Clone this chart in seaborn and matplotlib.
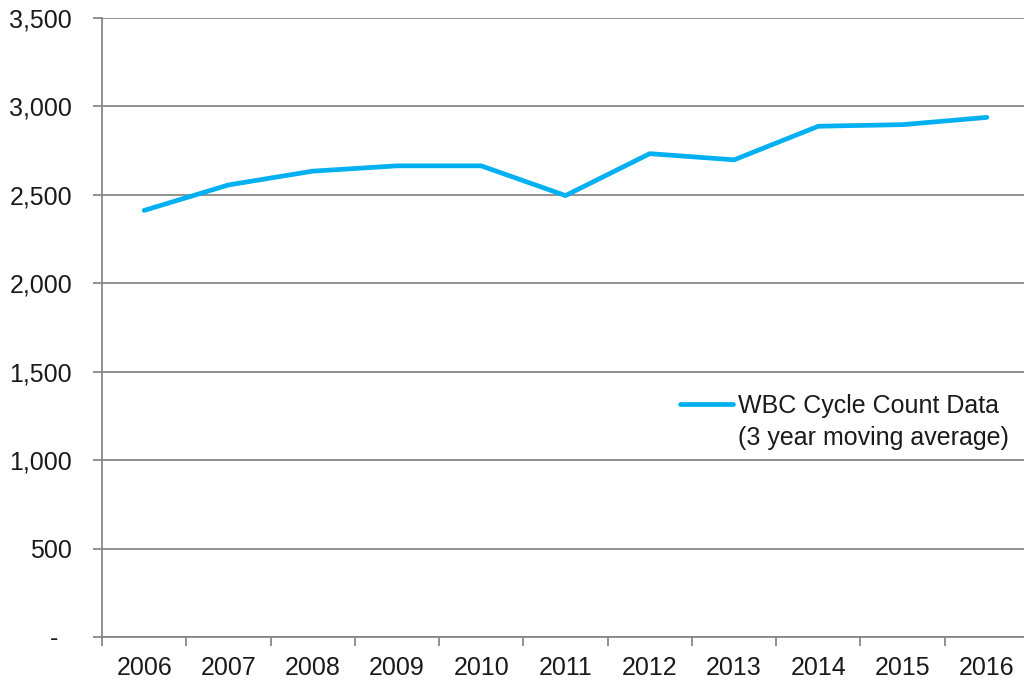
import matplotlib
matplotlib.use("Agg")
import matplotlib.pyplot as plt
from matplotlib.ticker import FuncFormatter, FixedLocator
from matplotlib.lines import Line2D
import seaborn as sns
import pandas as pd

years = ["2006", "2007", "2008", "2009", "2010", "2011",
         "2012", "2013", "2014", "2015", "2016"]
cycle_counts = [2412, 2556, 2634, 2664, 2664, 2496,
                2733, 2698, 2888, 2897, 2938]
series_label = "WBC Cycle Count Data"
series_note = "(3 year moving average)"
y_ticks = [0, 500, 1000, 1500, 2000, 2500, 3000, 3500]

sns.set_theme(style="white")
plt.rcParams["font.family"] = ["Liberation Sans", "DejaVu Sans"]

LINE_BLUE = "#00B0F0"
GRID_GREY = "#888888"
TEXT = "#1A1A1A"
FS = 18

df = pd.DataFrame({"year": years, "count": cycle_counts})

fig = plt.figure(figsize=(10.24, 6.84), dpi=100)
ax = fig.add_axes([102 / 1024, 1 - 637 / 684, 927 / 1024, (637 - 18) / 684])

sns.lineplot(data=df, x="year", y="count", ax=ax, color=LINE_BLUE,
             linewidth=3.4, sort=False, legend=False)

ax.set_xlim(-0.5, len(years) - 0.5)
ax.set_ylim(0, 3500)
ax.yaxis.set_major_locator(FixedLocator(y_ticks))
ax.yaxis.set_major_formatter(
    FuncFormatter(lambda v, _: "-  " if v == 0 else f"{v:,.0f}"))

# category labels sit between boundary tick marks
ax.set_xticks(range(len(years)))
ax.set_xticklabels(years)
ax.set_xticks([i - 0.5 for i in range(len(years) + 1)], minor=True)
ax.tick_params(axis="x", which="major", length=0, pad=14,
               labelsize=FS, labelcolor=TEXT)
ax.tick_params(axis="x", which="minor", length=6.5, width=1.3,
               color=GRID_GREY, direction="out", bottom=True)
ax.tick_params(axis="y", which="major", length=6.5, width=1.3,
               color=GRID_GREY, direction="out", left=True, pad=15,
               labelsize=FS, labelcolor=TEXT)

ax.grid(axis="y", color=GRID_GREY, linewidth=1.3)
ax.set_axisbelow(True)
for side in ("top", "right"):
    ax.spines[side].set_visible(False)
for side in ("left", "bottom"):
    ax.spines[side].set_color(GRID_GREY)
    ax.spines[side].set_linewidth(1.3)

ax.set_xlabel("")
ax.set_ylabel("")

handles = [Line2D([], [], color=LINE_BLUE, linewidth=3.4),
           Line2D([], [], color="none", linewidth=3.4)]
leg = ax.legend(handles, [series_label, series_note],
                loc="upper left",
                bbox_to_anchor=(680 / 1024, 1 - 394 / 684),
                bbox_transform=fig.transFigure,
                frameon=False, fontsize=FS, handlelength=2.12,
                handletextpad=0.2, labelspacing=0.3, borderpad=0,
                borderaxespad=0)
for t in leg.get_texts():
    t.set_color(TEXT)

fig.savefig("out.png", dpi=100)
